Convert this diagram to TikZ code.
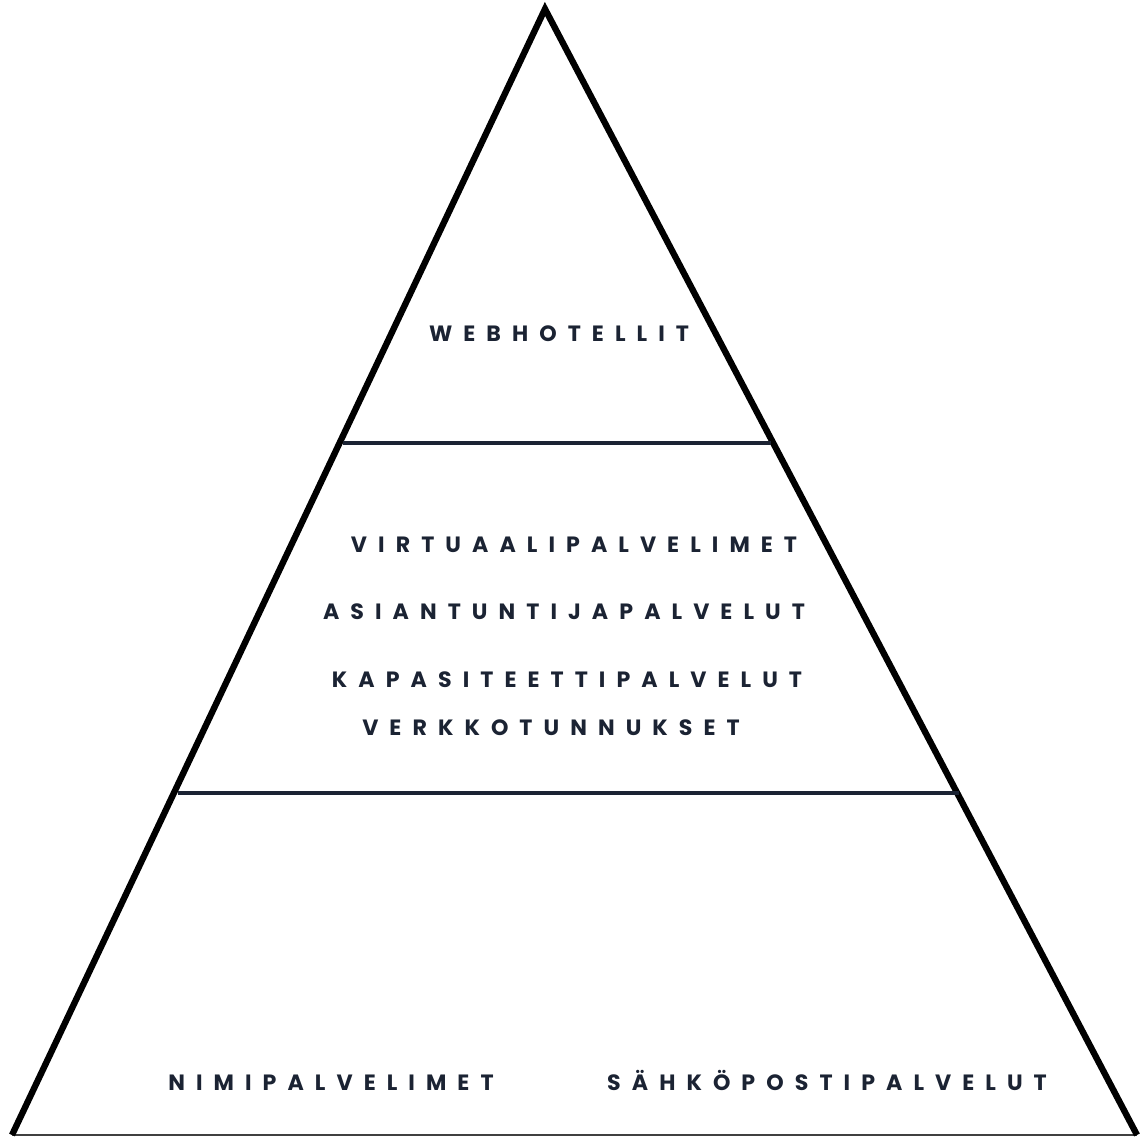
\documentclass[tikz,border=0pt]{standalone}
\usepackage{fontspec}
\newfontfamily\tierfont[LetterSpace=50]{Poppins}
\definecolor{navy}{HTML}{1B2333}

\begin{document}
\begin{tikzpicture}[x=0.02cm, y=-0.02cm,
    side/.style = {line width=3.6pt, black, line join=miter},
    base/.style = {line width=1.6pt, black!75},
    tier/.style = {line width=2.8pt, navy},
    lbl/.style = {font=\tierfont\bfseries\fontsize{12.6}{15}\selectfont, text=navy, inner sep=0pt, anchor=base}]
    \useasboundingbox (0,0) rectangle (1144,1138);

    % corners of the pyramid
    \coordinate (top) at (545,9);
    \coordinate (bl) at (12,1135);
    \coordinate (br) at (1137,1135);
    % ends of the two dividing lines
    \coordinate (t_1l) at (343,443);
    \coordinate (t_1r) at (771,443);
    \coordinate (t_2l) at (178,793);
    \coordinate (t_2r) at (959,793);

    \draw[base] (bl) -- (br);
    \draw[side] (bl) -- (top) -- (br);
    \draw[tier] (t_1l) -- (t_1r);
    \draw[tier] (t_2l) -- (t_2r);

    % top level
    \node[lbl] (web) at (559,342) {WEBHOTELLIT};
    % middle level
    \node[lbl] (virt) at (574,553) {VIRTUAALIPALVELIMET};
    \node[lbl] (asi) at (564,620) {ASIANTUNTIJAPALVELUT};
    \node[lbl] (kap) at (567,688) {KAPASITEETTIPALVELUT};
    \node[lbl] (verk) at (551,736) {VERKKOTUNNUKSET};
    % bottom level
    \node[lbl] (nimi) at (331,1090) {NIMIPALVELIMET};
    \node[lbl] (sahko) at (827,1090) {SÄHKÖPOSTIPALVELUT};
\end{tikzpicture}
\end{document}
